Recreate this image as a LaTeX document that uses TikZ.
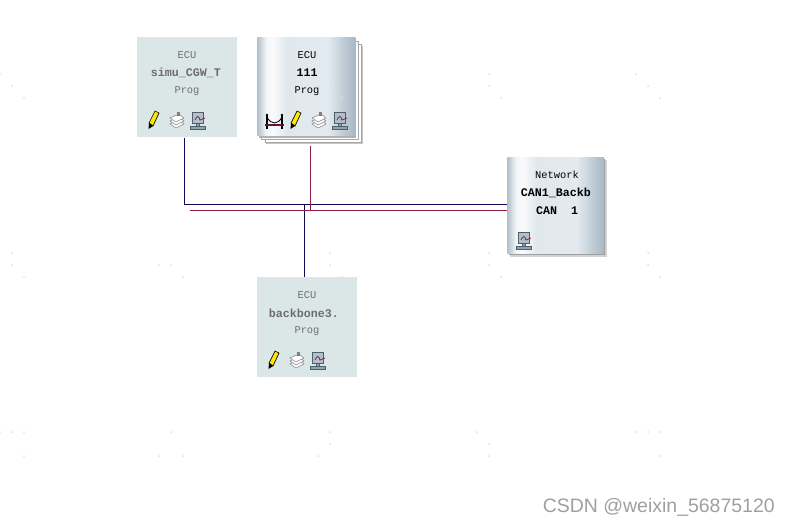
\documentclass[tikz,border=0pt]{standalone}
\usepackage{fontspec}
\setmonofont{Liberation Mono}
\setsansfont{Liberation Sans}
\usetikzlibrary{positioning,fit,backgrounds,calc}

\definecolor{ecugreen}{HTML}{DAE7E6}
\definecolor{busnavy}{HTML}{0C0A55}
\definecolor{buscrimson}{HTML}{8E1C4A}
\definecolor{dimtext}{HTML}{6E6E6E}
\definecolor{slateicon}{HTML}{8FA3B0}
\definecolor{slateline}{HTML}{4E5F6C}

\pgfdeclarehorizontalshading{steelshade}{100bp}{
  rgb(0bp)=(.70,.75,.79);
  rgb(25bp)=(.70,.75,.79);
  rgb(29.5bp)=(.95,.96,.97);
  rgb(33bp)=(.98,.98,.99);
  rgb(40bp)=(.88,.91,.93);
  rgb(61bp)=(.89,.92,.94);
  rgb(69bp)=(.75,.80,.84);
  rgb(75bp)=(.66,.72,.77);
  rgb(100bp)=(.66,.72,.77)}

% tool bar icons, the shifted origin is the top left of the icon
\newcommand{\penicon}[1]{%
  \begin{scope}[shift={(#1)}]
    \fill[yellow!90!orange,draw=black,line width=.5pt] (1,12) -- (7,0) -- (11,2) -- (5,15) -- cycle;
    \fill[black] (1,12) -- (5,15) -- (.5,18) -- cycle;
  \end{scope}}
\newcommand{\stackicon}[1]{%
  \begin{scope}[shift={(#1)}]
    \foreach \dy in {6,3,0}
      \draw[gray,fill=white,line width=.4pt] (0,6+\dy) -- (9,2+\dy) -- (14,6+\dy) -- (6,10+\dy) -- cycle;
    \fill[gray] (7,0) rectangle (10,4);
  \end{scope}}
\newcommand{\neticon}[1]{%
  \begin{scope}[shift={(#1)}]
    \draw[slateline,fill=slateicon!70,line width=.5pt] (2,0) rectangle (13,11);
    \draw[slateline,fill=slateicon,line width=.5pt] (6,11) rectangle (9,14);
    \draw[slateline,fill=slateicon,line width=.5pt] (0,14) rectangle (15,17);
    \draw[buscrimson,line width=.6pt] (5,8) .. controls (7,3) and (9,4) .. (10,8) -- (15,6);
  \end{scope}}
\newcommand{\gwicon}[1]{%
  \begin{scope}[shift={(#1)}]
    \draw[black,line width=1pt] (1,3) -- (1,17) (16,3) -- (16,17);
    \draw[black,line width=.6pt] (1,5) .. controls (5,13) and (12,13) .. (16,5);
    \draw[buscrimson!70!black,line width=.8pt] (-1,13) -- (18,13);
    \fill[black] (1,3) circle (1.4) (16,3) circle (1.4);
  \end{scope}}

\begin{document}
\begin{tikzpicture}[
  x=.75pt, y=-.75pt,
  font=\fontsize{7.8pt}{9pt}\ttfamily,
  ecu/.style={fill=ecugreen, minimum width=75pt, minimum height=75pt, inner sep=0pt},
  steel/.style={shading=steelshade, inner sep=0pt, minimum width=73.5pt, minimum height=73.5pt},
  ecutxt/.style={text=dimtext, inner sep=0pt},
  steeltxt/.style={text=black, inner sep=0pt},
  boldtxt/.style={font=\fontsize{8.75pt}{9pt}\ttfamily\bfseries},
  navy/.style={draw=busnavy, line width=.75pt},
  crimson/.style={draw=buscrimson, line width=.75pt},
  speck/.style={fill=gray!25},
]

\useasboundingbox (0,0) rectangle (790,525);

% ecu blocks
\node[ecu, anchor=north west] (ecuCgw) at (137,37) {};

\fill[gray!45] (266,46) rectangle (363,144);
\draw[gray!70,fill=white,line width=.4pt] (265,44) rectangle (361.5,142);
\draw[gray!70,fill=white,line width=.4pt] (261,41) rectangle (358,139.5);
\fill[gray!60] (259,39) rectangle (356,137.5);
\node[steel, anchor=north west] (ecuMain) at (257,37) {};

\node[ecu, anchor=north west] (ecuBack) at (257,277) {};

\fill[gray!35] (510,160) rectangle (607,257);
\fill[gray!75] (509,159) rectangle (605,255);
\node[steel, anchor=north west, minimum width=72.5pt, minimum height=72.5pt] (netCan) at (507,157) {};

% faint grid specks
\foreach \px/\py in {0/74,12/86,24/98,159/86,171/86,183/72,318/86,330/86,342/98,
  489/74,489/86,501/98,636/74,648/86,660/98,
  12/253,12/265,24/277,159/265,171/265,183/277,330/253,330/265,342/277,
  489/253,489/265,501/277,648/253,648/265,660/277,
  0/432,12/432,24/432,171/432,330/432,330/444,24/456,159/456,183/456,318/456,
  477/432,489/444,489/456,636/432,648/432,660/432,660/456}
  \fill[speck] (\px,\py) circle (1);

% labels
\node[ecutxt] (cgwA) at (187,55) {ECU};
\node[ecutxt, boldtxt] (cgwB) at (186,73) {simu\_CGW\_T};
\node[ecutxt] (cgwC) at (187,91) {Prog};

\node[steeltxt] (mainA) at (307,55) {ECU};
\node[steeltxt, boldtxt] (mainB) at (307,73) {111};
\node[steeltxt] (mainC) at (307,91) {Prog};

\node[ecutxt] (backA) at (307,295) {ECU};
\node[ecutxt, boldtxt] (backB) at (304,313) {backbone3.};
\node[ecutxt] (backC) at (307,331) {Prog};

\node[steeltxt] (netA) at (557,175) {Network};
\node[steeltxt, boldtxt] (netB) at (556,193) {CAN1\_Backb};
\node[steeltxt, boldtxt] (netC) at (557,211) {CAN\ \ 1};

% tool bar icons
\penicon{148,111}
\stackicon{170,112}
\neticon{190,112}

\gwicon{266,112}
\penicon{290,111}
\stackicon{312,112}
\neticon{332,112}

\penicon{268,351}
\stackicon{290,352}
\neticon{310,352}

\neticon{516,232}

% bus lines
\coordinate (navyBend) at (184,204);
\coordinate (navyTee) at (304.5,204);
\coordinate (redStart) at (190,210);
\coordinate (redTee) at (310,210);
\coordinate (redTop) at (310,146);

\draw[navy] (ecuCgw.south -| navyBend) -- (navyBend) -- (navyBend -| netCan.west);
\draw[navy] (navyTee) -- (navyTee |- ecuBack.north);
\draw[crimson] (redTop) -- (redTee);
\draw[crimson] (redStart) -- (redStart -| netCan.west);

\node[font=\fontsize{14.6pt}{16pt}\sffamily, text=gray!75, inner sep=0pt, anchor=east] (mark) at (775,507) {CSDN @weixin\_56875120};

\end{tikzpicture}
\end{document}
